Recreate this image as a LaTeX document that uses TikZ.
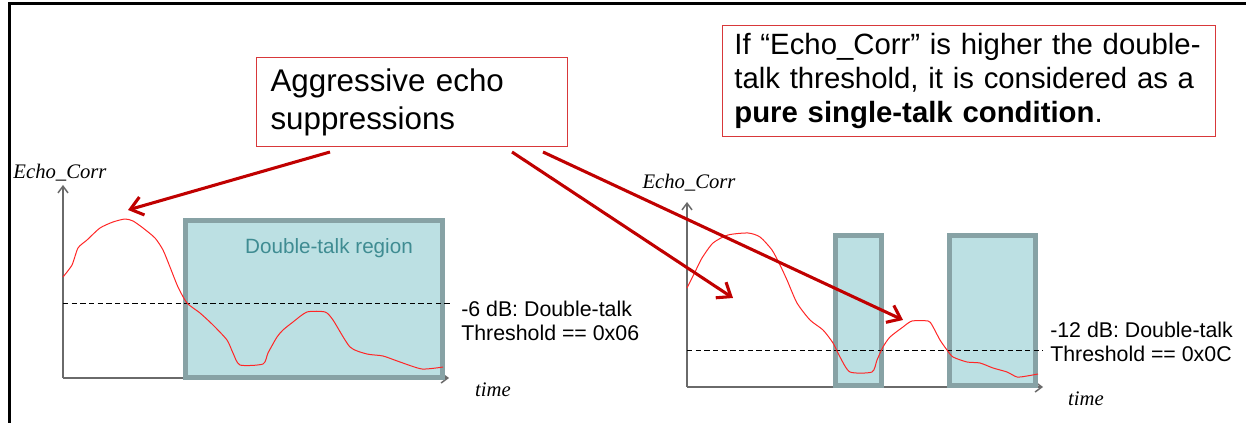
\documentclass[tikz,border=0pt]{standalone}
\usepackage{fontspec}
\setmainfont{Liberation Sans}
\newfontfamily\serifit{Liberation Serif}
\usetikzlibrary{arrows.meta}

\definecolor{arrowred}{HTML}{C00000}
\definecolor{curvered}{HTML}{FF2626}
\definecolor{boxred}{HTML}{D8383A}
\definecolor{regionfill}{HTML}{BCE0E3}
\definecolor{regionedge}{HTML}{87A2A5}
\definecolor{regiontext}{HTML}{3F8C92}
\definecolor{axisgray}{HTML}{6A6A6A}

\begin{document}
\begin{tikzpicture}[x=0.75pt, y=-0.75pt,
    callout/.style={draw=boxred, line width=0.8pt, anchor=north west, align=left, inner ysep=0pt},
    region/.style={fill=regionfill, draw=regionedge, line width=3.75pt},
    axis/.style={draw=axisgray, line width=1.1pt, -{Straight Barb[length=5pt,width=7.5pt]}},
    level/.style={dash pattern=on 4pt off 2.5pt, line width=0.7pt},
    signal/.style={curvered, line width=0.75pt, line join=round},
    pointer/.style={arrowred, line width=2.3pt, -{Straight Barb[length=9pt,width=14pt]}},
    axislabel/.style={inner sep=0pt, font=\serifit\itshape\fontsize{15.5}{18}\selectfont},
    thresh/.style={anchor=west, align=left, inner sep=0pt, font=\fontsize{16}{18}\selectfont},
  ]
  \useasboundingbox (0,0) rectangle (1246,423);

  % Draw frame
  \draw[line width=2.25pt] (9,423) -- (9,4) -- (1246,4);

  % Draw callouts
  \node[callout, text width=212.25pt, inner xsep=10.5pt, minimum height=66.75pt,
        font=\fontsize{23.5}{28.5}\selectfont] (aggbox) at (256,57)
        {Aggressive echo\\suppressions};
  \node[callout, text width=352pt, inner xsep=8.875pt, minimum height=83.25pt,
        font=\fontsize{22}{25.5}\selectfont] (condbox) at (722,25)
        {If “Echo\_Corr” is higher the double-\\talk threshold, it is considered as a\\\textbf{pure single-talk condition}.};

  % Left chart: axes
  \coordinate (oL) at (63,378);
  \coordinate (yL) at (63,185);
  \coordinate (xL) at (449,378);
  \draw[axis] (oL) -- (yL);
  \draw[axis] (oL) -- (xL);
  \node[axislabel] (echoL) at (60,173) {Echo\_Corr};
  \node[axislabel] (timeL) at (493,390) {time};

  % Left chart: double-talk region
  \draw[region] (185.5,220.5) rectangle (442.5,377.5);
  \node[text=regiontext, font=\fontsize{15.5}{18}\selectfont] (dtlabel) at (329,248) {Double-talk region};

  % Left chart: threshold
  \coordinate (dL1) at (63,303);
  \coordinate (dL2) at (451,303);
  \draw[level] (dL1) -- (dL2);
  \node[thresh] (threshL) at (461,321) {-6 dB: Double-talk\\Threshold == 0x06};

  % Left chart: Echo_Corr
  \draw[signal] plot[smooth, tension=0.4] coordinates {
    (63,277) (72,265) (78,248) (87,240) (100,228) (113,222) (125,219) (133,221)
    (143,228) (155,238) (163,250) (170,267) (178,287) (187,303) (200,313) (213,325)
    (227,340) (233,353) (240,365) (263,364) (268,353) (277,337) (283,330) (293,322)
    (307,312) (325,312) (333,320) (350,347) (367,354) (383,356) (400,362) (422,369) (443,367)};

  % Right chart: axes
  \coordinate (oR) at (687,387);
  \coordinate (yR) at (687,202);
  \coordinate (xR) at (1043,387);
  \draw[axis] (oR) -- (yR);
  \draw[axis] (oR) -- (xR);
  \node[axislabel] (echoR) at (689,183) {Echo\_Corr};
  \node[axislabel] (timeR) at (1086,399) {time};

  % Right chart: double-talk regions
  \draw[region] (835.5,235.5) rectangle (881.5,385.5);
  \draw[region] (949.5,235.5) rectangle (1035.5,385.5);

  % Right chart: threshold
  \coordinate (dR1) at (687,350);
  \coordinate (dR2) at (1043,350);
  \draw[level] (dR1) -- (dR2);
  \node[thresh] (threshR) at (1050,342) {-12 dB: Double-talk\\Threshold == 0x0C};

  % Right chart: Echo_Corr
  \draw[signal] plot[smooth, tension=0.4] coordinates {
    (687,288) (695,272) (702,258) (713,243) (728,235) (748,233) (760,237) (772,250)
    (780,265) (787,280) (797,303) (810,320) (823,330) (833,343) (840,357) (850,372)
    (872,372) (877,360) (883,347) (890,337) (903,327) (912,321) (928,321) (932,325)
    (940,340) (947,350) (953,357) (967,362) (980,363) (993,368) (1007,372) (1017,377)
    (1027,376) (1038,374)};

  % Draw pointers
  \coordinate (startA) at (330,152);
  \coordinate (startB) at (512,152);
  \coordinate (startC) at (543,152);
  \coordinate (peakL) at (128,210);
  \coordinate (peakR) at (733,298);
  \coordinate (bumpR) at (903,320);
  \draw[pointer] (startA) -- (peakL);
  \draw[pointer] (startB) -- (peakR);
  \draw[pointer] (startC) -- (bumpR);
\end{tikzpicture}
\end{document}
